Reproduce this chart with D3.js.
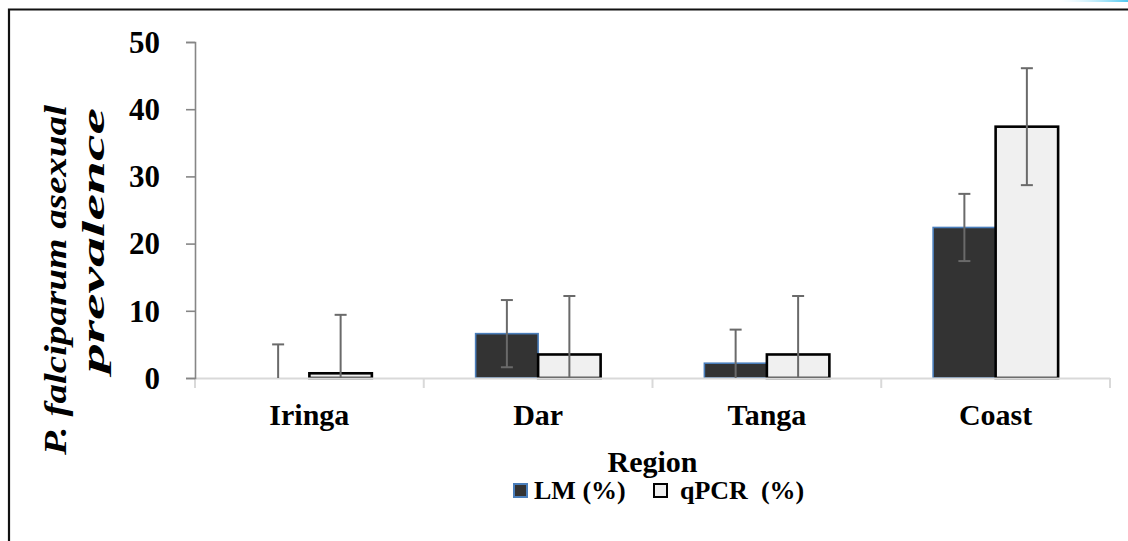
<!DOCTYPE html>
<html>
<head>
<meta charset="utf-8">
<script src="https://cdn.jsdelivr.net/npm/d3@7"></script>
<style>
  html, body { margin: 0; padding: 0; background: #fff; }
  svg { display: block; font-family: "Liberation Serif", "Times New Roman", serif; }
</style>
</head>
<body>
<svg id="chart" width="1128" height="541"></svg>
<script>
// ---- data ----
const categories = ["Iringa", "Dar", "Tanga", "Coast"];
const seriesNames = ["LM (%)", "qPCR  (%)"];
const lmValues = [0, 6.6, 2.2, 22.4];
const lmErrors = [5.0, 5.0, 5.0, 5.0];
const qpcrValues = [0.7, 3.5, 3.5, 37.4];
const qpcrErrors = [8.7, 8.7, 8.7, 8.7];
const yTicks = [0, 10, 20, 30, 40, 50];
const yTitleLines = ["P. falciparum asexual", "prevalence"];
const xTitle = "Region";

// ---- layout ----
const svg = d3.select("#chart");
const W = 1128, H = 541;
const plot = { left: 195, right: 1110, top: 42, bottom: 378 };

const series = [
  { name: seriesNames[0], values: lmValues, errors: lmErrors, fill: "#333333", stroke: "#4a7ebb", sw: 1.6 },
  { name: seriesNames[1], values: qpcrValues, errors: qpcrErrors, fill: "#f0f0f0", stroke: "#000000", sw: 2.6 }
];

// frame
svg.append("rect").attr("x", 0).attr("y", 0).attr("width", W).attr("height", H).attr("fill", "#fff");
const grad = svg.append("defs").append("linearGradient").attr("id", "glint")
  .attr("x1", "0%").attr("x2", "100%");
grad.append("stop").attr("offset", "0%").attr("stop-color", "#bfefff").attr("stop-opacity", 0);
grad.append("stop").attr("offset", "100%").attr("stop-color", "#4fc8f0");
svg.append("rect").attr("x", 1060).attr("y", 0).attr("width", 68).attr("height", 2).attr("fill", "url(#glint)");
svg.append("path").attr("d", `M9,${H} V9.5 H${W}`).attr("fill", "none").attr("stroke", "#111").attr("stroke-width", 2.2);

// scales
const x0 = d3.scaleBand().domain(categories).range([plot.left, plot.right])
  .paddingInner(0.4536).paddingOuter(0.4536 / 2);
const x1 = d3.scaleBand().domain(seriesNames).range([0, x0.bandwidth()]).padding(0);
const y = d3.scaleLinear().domain([0, 50]).range([plot.bottom, plot.top]);

// bars
series.forEach(s => {
  svg.append("g").selectAll("rect").data(categories).join("rect")
    .attr("x", d => x0(d) + x1(s.name))
    .attr("y", (d, i) => y(s.values[i]))
    .attr("width", x1.bandwidth())
    .attr("height", (d, i) => y(0) - y(s.values[i]))
    .attr("fill", s.fill)
    .attr("stroke", (d, i) => s.values[i] > 0 ? s.stroke : "none")
    .attr("stroke-width", s.sw);
});

// x axis line + category ticks
const step = x0.step();
svg.append("line").attr("x1", plot.left).attr("x2", plot.right)
  .attr("y1", y(0) + 0.5).attr("y2", y(0) + 0.5).attr("stroke", "#d9d9d9").attr("stroke-width", 2);
const bounds = categories.map((c, i) => plot.left + i * step).concat([plot.right]);
svg.append("g").selectAll("line").data(bounds).join("line")
  .attr("x1", d => d).attr("x2", d => d)
  .attr("y1", y(0)).attr("y2", y(0) + 10)
  .attr("stroke", "#d9d9d9").attr("stroke-width", 2);

// error bars (clipped at zero)
series.forEach(s => {
  const g = svg.append("g").attr("stroke", "#6a6a6a").attr("stroke-width", 2);
  categories.forEach((c, i) => {
    const cx = x0(c) + x1(s.name) + x1.bandwidth() / 2;
    const hi = s.values[i] + s.errors[i];
    const lo = s.values[i] - s.errors[i];
    const loC = Math.max(lo, 0);
    g.append("line").attr("x1", cx).attr("x2", cx).attr("y1", y(hi)).attr("y2", y(loC));
    g.append("line").attr("x1", cx - 6).attr("x2", cx + 6).attr("y1", y(hi)).attr("y2", y(hi));
    if (lo >= 0) g.append("line").attr("x1", cx - 6).attr("x2", cx + 6).attr("y1", y(lo)).attr("y2", y(lo));
  });
});

// y axis
const yAxis = d3.axisLeft(y).tickValues(yTicks).tickSize(9).tickPadding(26).tickFormat(d3.format("d"));
const ya = svg.append("g").attr("transform", `translate(${plot.left},0)`).call(yAxis);
ya.select(".domain").attr("stroke", "#868686").attr("stroke-width", 1.6);
ya.selectAll(".tick line").attr("stroke", "#868686").attr("stroke-width", 1.6);
ya.selectAll(".tick text").attr("fill", "#000").attr("font-size", 31).attr("font-weight", "bold")
  .attr("font-family", "Liberation Serif, Times New Roman, serif").attr("dy", "0.33em");

// category labels
svg.append("g").selectAll("text").data(categories).join("text")
  .attr("x", d => x0(d) + x0.bandwidth() / 2)
  .attr("y", 425)
  .attr("text-anchor", "middle")
  .attr("font-size", 30).attr("font-weight", "bold")
  .text(d => d);

// x title
svg.append("text").attr("x", 652.5).attr("y", 472).attr("text-anchor", "middle")
  .attr("font-size", 30).attr("font-weight", "bold").text(xTitle);

// y title (two lines)
const yt = svg.append("g");
yt.append("text").attr("transform", "translate(66,455) rotate(-90)")
  .attr("font-size", 31).attr("font-weight", "bold").attr("font-style", "italic")
  .attr("textLength", 350).attr("lengthAdjust", "spacingAndGlyphs")
  .text(yTitleLines[0]);
yt.append("text").attr("transform", "translate(104,373) rotate(-90)")
  .attr("font-size", 31).attr("font-weight", "bold").attr("font-style", "italic")
  .attr("textLength", 265).attr("lengthAdjust", "spacingAndGlyphs")
  .text(yTitleLines[1]);

// legend
const legendItems = [
  { s: series[0], sx: 513, tx: 534 },
  { s: series[1], sx: 653, tx: 680 }
];
legendItems.forEach(it => {
  svg.append("rect").attr("x", it.sx + 1).attr("y", 484).attr("width", 13).attr("height", 13)
    .attr("fill", it.s.fill).attr("stroke", it.s.stroke).attr("stroke-width", 2);
  svg.append("text").attr("x", it.tx).attr("y", 499).attr("font-size", 26).attr("font-weight", "bold")
    .style("white-space", "pre").text(it.s.name);
});
</script>
</body>
</html>
